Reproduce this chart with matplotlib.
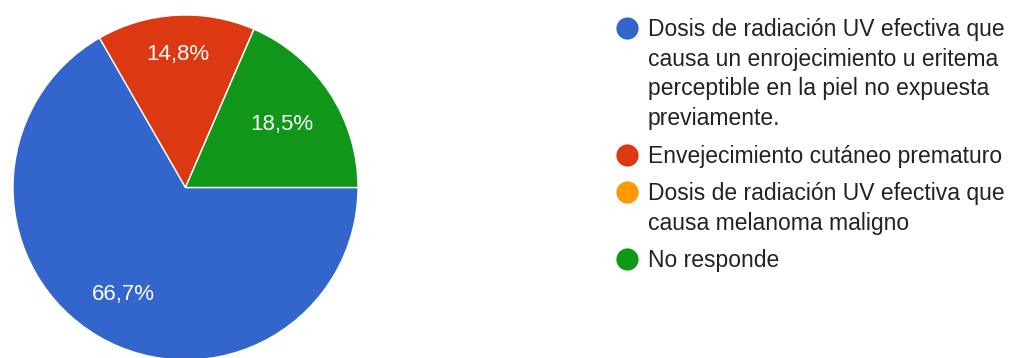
import matplotlib
matplotlib.use("Agg")
import matplotlib.pyplot as plt
import numpy as np

categories = [
    "Dosis de radiación UV efectiva que\ncausa un enrojecimiento u eritema\nperceptible en la piel no expuesta\npreviamente.",
    "Envejecimiento cutáneo prematuro",
    "Dosis de radiación UV efectiva que\ncausa melanoma maligno",
    "No responde",
]
values = [66.7, 14.8, 0.0, 18.5]
colors = ["#3366cc", "#dc3912", "#ff9900", "#109618"]

plt.rcParams["font.family"] = ["Liberation Sans", "DejaVu Sans"]

W, H = 1010, 358
fig = plt.figure(figsize=(W / 100, H / 100), dpi=100)

cx, cy, r = 185.5, 187.5, 172.5
ax = fig.add_axes([(cx - r) / W, (H - cy - r) / H, 2 * r / W, 2 * r / H])
ax.set_aspect("equal")
ax.axis("off")


def fmt(p):
    return "" if p < 0.05 else f"{p:.1f}%".replace(".", ",")


wedges, texts, autotexts = ax.pie(
    values, colors=colors, startangle=0, counterclock=False, radius=1,
    autopct=fmt, pctdistance=0.72,
    wedgeprops=dict(edgecolor="white", linewidth=1.0),
    textprops=dict(color="white", fontsize=16),
)
ax.set_xlim(-1, 1)
ax.set_ylim(-1, 1)

# per-wedge label distance (Google-style placement)
label_dist = [0.72, 0.77, 0.72, 0.67]
for w, t, d in zip(wedges, autotexts, label_dist):
    ang = np.deg2rad((w.theta1 + w.theta2) / 2)
    t.set_position((d * np.cos(ang), d * np.sin(ang)))

# Legend
lx_circle = 627
lx_text = 648
baseline = 36
line_h = 29.7
item_gap = 37.5
for cat, col in zip(categories, colors):
    lines = cat.split("\n")
    fig.lines.append(plt.Line2D([lx_circle / W], [1 - (baseline - 8) / H], marker="o",
                                markersize=16, color=col, markeredgewidth=0,
                                transform=fig.transFigure, figure=fig))
    for i, ln in enumerate(lines):
        yb = baseline + i * line_h
        fig.text(lx_text / W, 1 - yb / H, ln, ha="left", va="baseline",
                 fontsize=16.5, color="#222222")
    baseline += (len(lines) - 1) * line_h + item_gap

fig.savefig("out.png", dpi=100)
